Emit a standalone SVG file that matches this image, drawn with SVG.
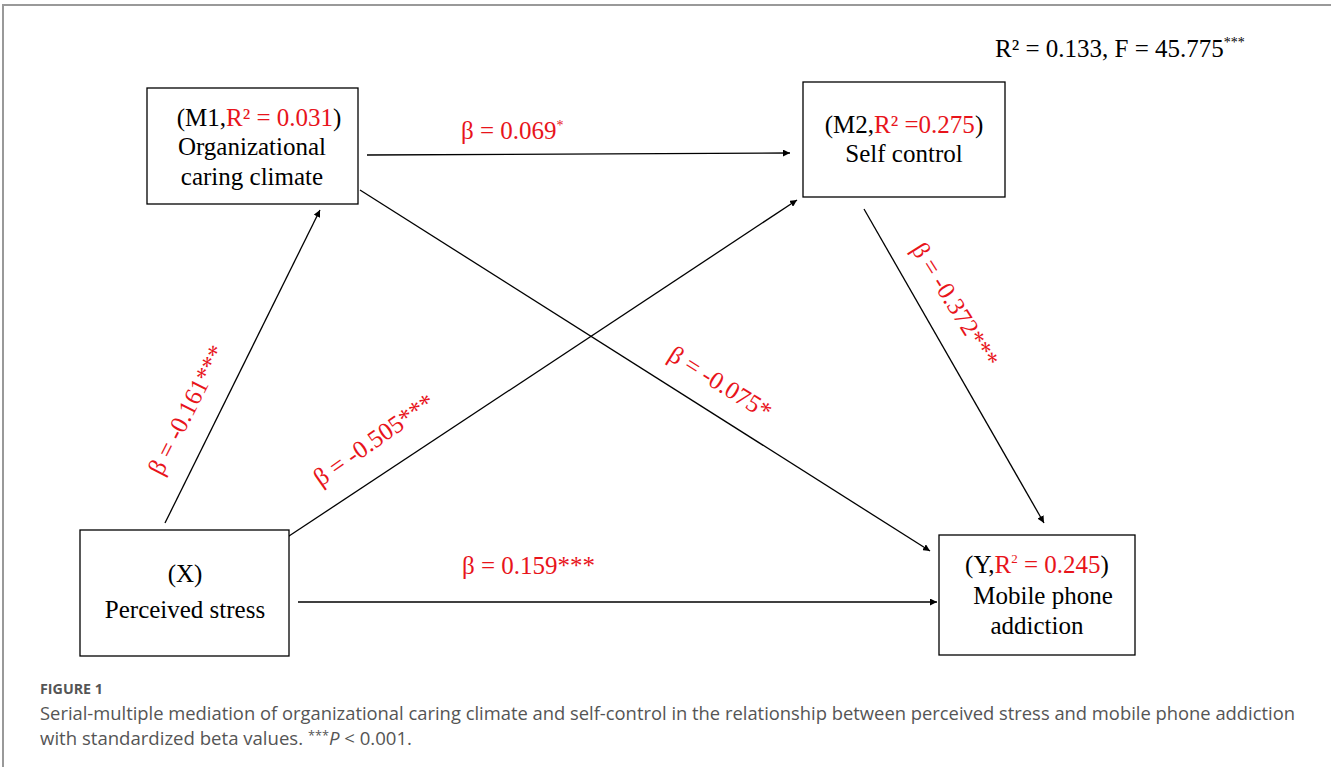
<svg xmlns="http://www.w3.org/2000/svg" width="1331" height="767" viewBox="0 0 1331 767">
<style>
.box{fill:#fff;stroke:#000;stroke-width:1.3}
.t{font-family:"Liberation Serif","Times New Roman",serif;font-size:25px;fill:#000}
.r{fill:#e8141b}
.lbl{font-family:"Liberation Serif","Times New Roman",serif;font-size:25px;fill:#e8141b}
.ln{stroke:#000;stroke-width:1.3;fill:none;marker-end:url(#ah)}
.cap{font-family:"Open Sans",Lato,sans-serif;fill:#555}
</style>
<defs>
<marker id="ah" viewBox="0 0 10 10" refX="10" refY="5" markerWidth="7" markerHeight="7" markerUnits="userSpaceOnUse" orient="auto">
<path d="M0,0 L10,5 L0,10 z" fill="#000"/>
</marker>
</defs>
<rect width="1331" height="767" fill="#fff"/>
<path d="M3,767 V5 H1331" fill="none" stroke="#999" stroke-width="2"/>

<g id="connectors">
<line class="ln" x1="165" y1="523" x2="320" y2="210"/>
<line class="ln" x1="367" y1="155" x2="790" y2="153"/>
<line class="ln" x1="286" y1="538" x2="797" y2="200"/>
<line class="ln" x1="360" y1="190" x2="930" y2="551"/>
<line class="ln" x1="864" y1="209" x2="1044" y2="523"/>
<line class="ln" x1="298" y1="602" x2="937" y2="602"/>
</g>

<g id="labels">
<text class="lbl" x="461" y="139">β = 0.069<tspan font-size="14" dy="-9">*</tspan></text>
<text class="lbl" x="462" y="574">β = 0.159***</text>
<text class="lbl" transform="translate(187,410) rotate(-63)" x="0" y="8" text-anchor="middle">β = -0.161***</text>
<text class="lbl" transform="translate(374,440) rotate(-35)" x="0" y="8" text-anchor="middle">β = -0.505***</text>
<text class="lbl" transform="translate(720,383) rotate(32)" x="0" y="8" text-anchor="middle">β = -0.075*</text>
<text class="lbl" transform="translate(955,305) rotate(58)" x="0" y="8" text-anchor="middle">β = -0.372***</text>
<text class="t" x="995" y="57" font-size="26">R² = 0.133, F = 45.775<tspan font-size="14" dy="-10">***</tspan></text>
</g>

<g id="M1">
<rect class="box" x="147" y="88" width="211" height="116"/>
<text class="t" x="259" y="126" text-anchor="middle">(M1,<tspan class="r">R² = 0.031</tspan>)</text>
<text class="t" x="252" y="155" text-anchor="middle">Organizational</text>
<text class="t" x="252" y="185" text-anchor="middle">caring climate</text>
</g>

<g id="M2">
<rect class="box" x="803" y="82" width="202" height="115"/>
<text class="t" x="904" y="133" text-anchor="middle">(M2,<tspan class="r">R² =0.275</tspan>)</text>
<text class="t" x="904" y="162" text-anchor="middle">Self control</text>
</g>

<g id="X">
<rect class="box" x="80" y="530" width="209" height="126"/>
<text class="t" x="185" y="582" text-anchor="middle">(X)</text>
<text class="t" x="185" y="618" text-anchor="middle">Perceived stress</text>
</g>

<g id="Y">
<rect class="box" x="939" y="535" width="196" height="120"/>
<text class="t" x="1037" y="573" text-anchor="middle">(Y,<tspan class="r">R<tspan font-size="13" dy="-10">2</tspan><tspan dy="10"> = 0.245</tspan></tspan>)</text>
<text class="t" x="1043" y="604" text-anchor="middle">Mobile phone</text>
<text class="t" x="1037" y="634" text-anchor="middle">addiction</text>
</g>

<g id="caption">
<text class="cap" x="40" y="694" font-size="13.5" font-weight="bold" fill="#333" textLength="63" lengthAdjust="spacingAndGlyphs">FIGURE 1</text>
<text class="cap" x="40" y="720" font-size="17.5" textLength="1255" lengthAdjust="spacingAndGlyphs">Serial-multiple mediation of organizational caring climate and self-control in the relationship between perceived stress and mobile phone addiction</text>
<text class="cap" x="40" y="745" font-size="17.5" textLength="372" lengthAdjust="spacingAndGlyphs">with standardized beta values. <tspan font-size="12" dy="-5">***</tspan><tspan dy="5" font-style="italic">P</tspan> &lt; 0.001.</text>
</g>
</svg>
